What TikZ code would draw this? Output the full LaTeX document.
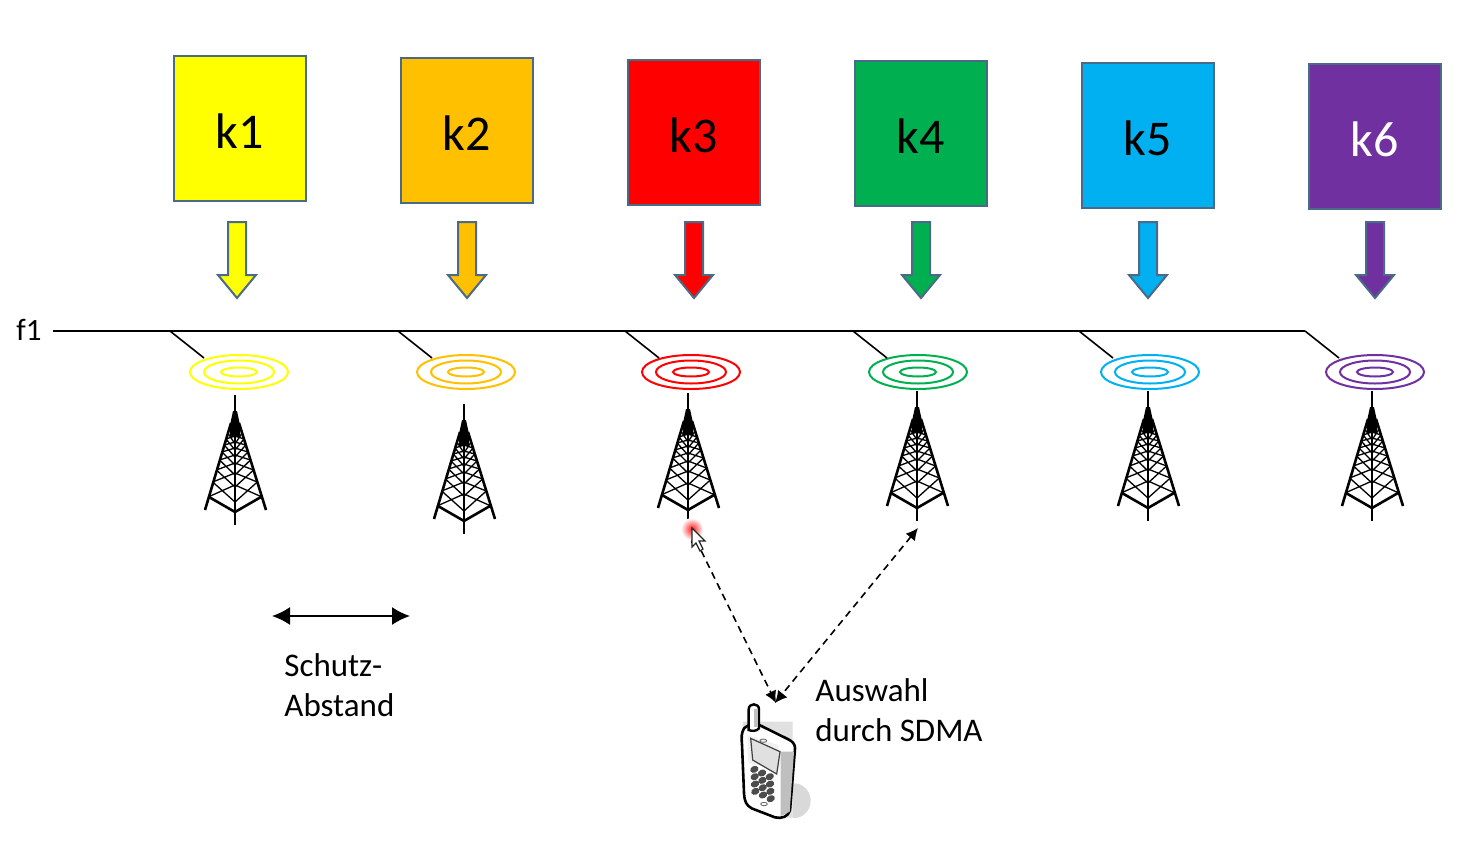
\documentclass[tikz,border=0pt]{standalone}
\usepackage{fontspec}
\setmainfont{Carlito}
\usetikzlibrary{arrows.meta,shadings,shapes.geometric}
\tikzset{
  kbox/.style={draw=edgeblue,line width=1pt,minimum width=66pt,minimum height=72.5pt,inner sep=0pt,font=\fontsize{25}{25}\selectfont},
  biglabel/.style={font=\fontsize{16.5}{20}\selectfont,inner sep=0pt},
  blockarrow/.style={draw=edgeblue,line width=1pt,line join=miter},
  wire/.style={draw=black,line width=1pt},
  ring/.style={line width=1pt},
  dashlink/.style={draw=black,line width=.8pt,dash pattern=on 3.5pt off 2.5pt,{Latex[length=6pt,width=6pt]}-{Latex[length=6pt,width=6pt]}},
  guardlink/.style={draw=black,line width=.9pt,{Latex[length=9pt,width=9pt]}-{Latex[length=9pt,width=9pt]}},
  towerline/.style={draw=black,line width=.65pt},
  towerleg/.style={draw=black,line width=1.3pt},
}
\definecolor{edgeblue}{HTML}{4A6A88}
\definecolor{kyellow}{HTML}{FFFF00}
\definecolor{korange}{HTML}{FFC000}
\definecolor{kred}{HTML}{FF0000}
\definecolor{kgreen}{HTML}{00B050}
\definecolor{kblue}{HTML}{00B0F0}
\definecolor{kpurple}{HTML}{7030A0}
\newcommand{\klabel}[1]{\raisebox{-10pt}[0pt][0pt]{#1}}
\newcommand{\blockarr}[2]{% center x, colour
  \path[blockarrow,fill=#2] (#1-9,222) -- (#1+9,222) -- (#1+9,275) -- (#1+19,275) -- (#1,298) -- (#1-19,275) -- (#1-9,275) -- cycle;}
\newcommand{\rings}[3]{% name, x, colour
  \node[draw=#3,ring,ellipse,minimum width=49pt,minimum height=17pt,inner sep=0pt] (#1) at (#2,372) {};
  \node[draw=#3,ring,ellipse,minimum width=35pt,minimum height=11.5pt,inner sep=0pt] at (#2,372) {};
  \node[draw=#3,ring,ellipse,minimum width=18pt,minimum height=4.5pt,inner sep=0pt] at (#2,372) {};}
\newcommand{\tower}[2]{%
  \begin{scope}[shift={(#1,#2)}]
    \draw[towerline,line width=1.1pt] (0,0) -- (0,130);
    \fill[black] (-2,16) -- (2,16) -- (5,30) -- (5,42) -- (-5,42) -- (-5,30) -- cycle;
    \draw[towerleg] (-4,28) -- (-30,115);
    \draw[towerleg] (4,28) -- (31,115);
    \draw[towerleg] (-26,102) -- (0,117) -- (26,102);
    \foreach \a/\b in {102/87,87/75,75/65,65/57,57/50,50/44,44/38}{
      \pgfmathsetmacro{\wa}{4+(\a-28)*0.31}
      \pgfmathsetmacro{\wb}{4+(\b-28)*0.31}
      \draw[towerline] (-\wa,\a) -- (0,\b+3) (-\wb,\b) -- (0,\a+5);
      \draw[towerline] (\wa,\a) -- (0,\b+3) (\wb,\b) -- (0,\a+5);
    }
  \end{scope}}
\begin{document}
\begin{tikzpicture}[x=.5pt,y=-.5pt]
\useasboundingbox (0,0) rectangle (1474,841);
\fill[white] (0,0) rectangle (1474,841);
% boxes
\node[kbox,fill=kyellow] (k1) at (240,128.5) {\klabel{k1}};
\node[kbox,fill=korange] (k2) at (467,130.5) {\klabel{k2}};
\node[kbox,fill=kred] (k3) at (694,132) {\klabel{k3}};
\node[kbox,fill=kgreen] (k4) at (921,133) {\klabel{k4}};
\node[kbox,fill=kblue] (k5) at (1148,135) {\klabel{k5}};
\node[kbox,fill=kpurple,text=white] (k6) at (1375,136) {\klabel{k6}};
% block arrows
\blockarr{237}{kyellow}
\blockarr{467}{korange}
\blockarr{694}{kred}
\blockarr{921}{kgreen}
\blockarr{1148}{kblue}
\blockarr{1375}{kpurple}
% frequency line
\node[biglabel,font=\fontsize{15.5}{18}\selectfont] (f1) at (29,330) {f1};
\coordinate (lineend) at (1305,330.5);
\coordinate (linestart) at (53,330.5);
\draw[wire] (linestart) -- (lineend);
% rings
\rings{r1}{239}{kyellow}
\rings{r2}{466}{korange}
\rings{r3}{691}{kred}
\rings{r4}{918}{kgreen}
\rings{r5}{1150}{kblue}
\rings{r6}{1375}{kpurple}
% leaders
\foreach \n/\x in {1/170,2/398,3/625,4/853,5/1079,6/1305}{
  \coordinate (t\n) at (\x,331);
  \coordinate (e\n) at (\x+34,358);
  \draw[wire,line width=.8pt] (t\n) -- (e\n);
}
% towers
\tower{235}{395}
\tower{464}{404}
\tower{688}{393}
\tower{917}{391}
\tower{1148}{391}
\tower{1372}{391}
% SDMA links
\coordinate (tw3) at (691,530);
\coordinate (tw4) at (918,528);
\coordinate (ph3) at (776,703);
\coordinate (ph4) at (775,703);
\draw[dashlink] (tw3) -- (ph3);
\draw[dashlink] (tw4) -- (ph4);
% pointer highlight
\shade[inner color=kred!90,outer color=white] (692,529) circle (11);
\path[draw=black!85,fill=white,line width=.6pt] (692,528) -- (692,547) -- (696,543) -- (700,551) -- (703,549) -- (699,541) -- (705,541) -- cycle;
% guard distance
\coordinate (ga) at (272,616);
\coordinate (gb) at (410,616);
\draw[guardlink] (ga) -- (gb);
\node[biglabel,anchor=base west] (s1) at (284,676) {Schutz-};
\node[biglabel,anchor=base west] (s2) at (284,716) {Abstand};
\node[biglabel,anchor=base west] (a1) at (815,701) {Auswahl};
\node[biglabel,anchor=base west] (a2) at (815,741) {durch SDMA};
% phone
\begin{scope}[shift={(660,670)},x=.1667pt,y=-.1667pt]
  \begin{scope}
    \clip (398,330) rectangle (460,450);
    \fill[black!15] (402,392) ellipse (50 and 52);
  \end{scope}
  \fill[black!12] (248,155) -- (398,155) -- (398,443) -- (340,443) -- (248,300) -- cycle;
  \path[draw=black,fill=white,line width=1.3pt,line join=round] (252,175) .. controls (244,190) and (244,200) .. (246,225) -- (252,370) .. controls (254,395) and (258,405) .. (275,415) -- (345,442) .. controls (365,447) and (385,440) .. (390,420) -- (405,235) .. controls (405,222) and (398,215) .. (385,208) -- (298,165) .. controls (280,160) and (262,165) .. (252,175) -- cycle;
  \fill[black!25] (362,245) -- (402,245) -- (389,425) -- (362,438) -- cycle;
  \fill[blue!8!black!6] (262,195) -- (355,225) -- (362,300) -- (265,280) -- cycle;
  \path[draw=black!75,fill=black!12,line width=.6pt] (272,205) -- (360,245) -- (350,312) -- (278,270) -- cycle;
  \path[draw=black!60,fill=black!7,line width=.4pt] (310,212) circle (10 and 5);
  \path[draw=black!60,fill=white,line width=.4pt] (312,402) circle (10 and 5);
  \foreach \r in {0,1,2,3}{
    \foreach \c in {0,1,2}{
      \fill[black!70,rotate around={25:({283+\c*23+\r*1},{298+\r*22+\c*11})}] ({283+\c*23+\r*1},{298+\r*22+\c*11}) ellipse (13 and 10);
    }
  }
  \path[draw=black,fill=white,line width=1.2pt] (266,180) -- (266,118) .. controls (266,98) and (297,98) .. (297,118) -- (297,175) .. controls (290,184) and (275,184) .. (266,180) -- cycle;
  \fill[black!25] (283,118) rectangle (295,172);
\end{scope}
\end{tikzpicture}
\end{document}
